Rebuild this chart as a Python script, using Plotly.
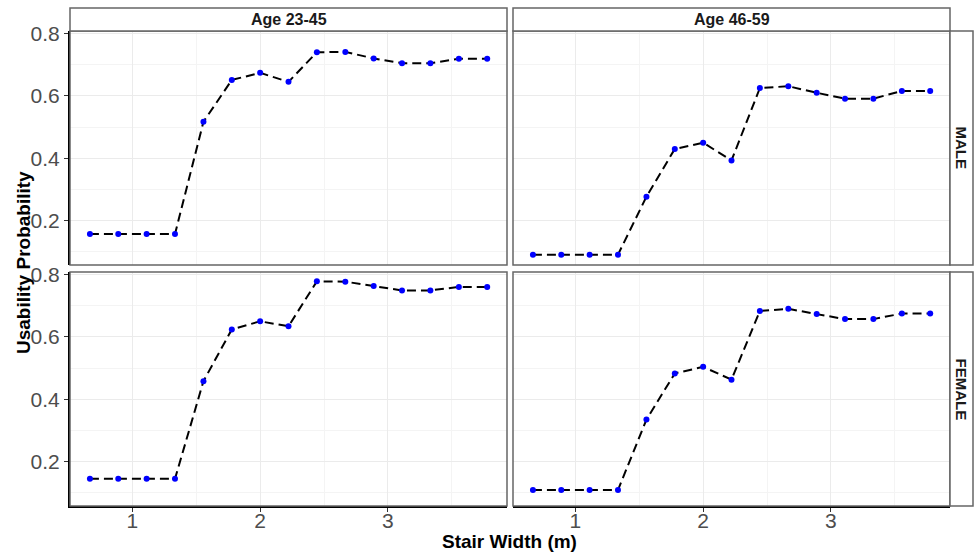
import plotly.graph_objects as go

# ---- data ----
stair_width = [0.667, 0.889, 1.111, 1.333, 1.556, 1.778, 2.0, 2.222,
               2.444, 2.667, 2.889, 3.111, 3.333, 3.556, 3.778]
male_23_45 = [0.157, 0.157, 0.157, 0.157, 0.517, 0.651, 0.674, 0.645,
              0.740, 0.741, 0.720, 0.705, 0.705, 0.719, 0.719]
male_46_59 = [0.091, 0.091, 0.091, 0.091, 0.277, 0.430, 0.450, 0.393,
              0.625, 0.631, 0.610, 0.591, 0.591, 0.616, 0.616]
female_23_45 = [0.145, 0.145, 0.145, 0.145, 0.458, 0.624, 0.650, 0.634,
                0.778, 0.777, 0.763, 0.749, 0.749, 0.760, 0.760]
female_46_59 = [0.109, 0.109, 0.109, 0.109, 0.335, 0.483, 0.504, 0.463,
                0.683, 0.690, 0.673, 0.657, 0.657, 0.675, 0.675]
age_labels = ["Age 23-45", "Age 46-59"]
sex_labels = ["MALE", "FEMALE"]
x_ticks = [1, 2, 3]
y_ticks = [0.2, 0.4, 0.6, 0.8]

W, H = 975, 554
FONT = "Liberation Sans, Arial, sans-serif"

# panel pixel boxes (left, right, top, bottom)
cols_px = [(70, 507), (513, 950)]
rows_px = [(31, 265), (272, 506)]

def fx(px):
    return px / W

def fy(py):
    return 1 - py / H

fig = go.Figure()
series = [[male_23_45, male_46_59], [female_23_45, female_46_59]]
shapes = []
annotations = []
xr = [0.511, 3.933]
yr = [0.058, 0.808]

idx = 0
for r in range(2):
    for c in range(2):
        idx += 1
        xa = "x" if idx == 1 else f"x{idx}"
        ya = "y" if idx == 1 else f"y{idx}"
        xkey = "xaxis" if idx == 1 else f"xaxis{idx}"
        ykey = "yaxis" if idx == 1 else f"yaxis{idx}"
        fig.add_trace(go.Scatter(
            x=stair_width, y=series[r][c], xaxis=xa, yaxis=ya,
            mode="lines+markers",
            line=dict(color="black", width=2, dash="9px,5px"),
            marker=dict(color="blue", size=6),
            showlegend=False, hoverinfo="x+y"))
        l, rr = cols_px[c]
        t, b = rows_px[r]
        bottom_row = (r == 1)
        left_col = (c == 0)
        fig.update_layout({
            xkey: dict(domain=[fx(l), fx(rr)], anchor=ya, range=xr,
                       tickvals=x_ticks, showticklabels=bottom_row,
                       ticks="outside" if bottom_row else "", ticklen=4,
                       tickcolor="#333333", automargin=False,
                       ticklabelstandoff=-9,
                       tickfont=dict(size=21, color="#4d4d4d", family=FONT),
                       showgrid=True, gridcolor="#ebebeb", gridwidth=1,
                       minor=dict(tickvals=[0.5, 1.5, 2.5, 3.5], showgrid=True,
                                  gridcolor="#f4f4f4", gridwidth=0.8),
                       zeroline=False,
                       showline=bottom_row, linecolor="black", linewidth=2),
            ykey: dict(domain=[fy(b), fy(t)], anchor=xa, range=yr,
                       tickvals=y_ticks, showticklabels=left_col,
                       ticks="outside" if left_col else "", ticklen=4,
                       tickcolor="#333333", automargin=False,
                       tickfont=dict(size=21, color="#4d4d4d", family=FONT),
                       showgrid=True, gridcolor="#ebebeb", gridwidth=1,
                       minor=dict(tickvals=[0.1, 0.3, 0.5, 0.7], showgrid=True,
                                  gridcolor="#f4f4f4", gridwidth=0.8),
                       zeroline=False,
                       showline=left_col, linecolor="black", linewidth=2),
        })
        # panel border
        shapes.append(dict(type="rect", xref="paper", yref="paper",
                           x0=fx(l), x1=fx(rr), y0=fy(b), y1=fy(t),
                           line=dict(color="#666666", width=1.5),
                           fillcolor="rgba(0,0,0,0)", layer="above"))

# top strips
for c in range(2):
    l, rr = cols_px[c]
    shapes.append(dict(type="rect", xref="paper", yref="paper",
                       x0=fx(l), x1=fx(rr), y0=fy(31), y1=fy(8),
                       line=dict(color="#666666", width=1.5), fillcolor="white"))
    annotations.append(dict(text=f"<b>{age_labels[c]}</b>", xref="paper", yref="paper",
                            x=(fx(l) + fx(rr)) / 2, y=(fy(31) + fy(8)) / 2,
                            showarrow=False, xanchor="center", yanchor="middle",
                            font=dict(size=16, color="#1a1a1a", family=FONT)))
# right strips
for r in range(2):
    t, b = rows_px[r]
    shapes.append(dict(type="rect", xref="paper", yref="paper",
                       x0=fx(950), x1=fx(973), y0=fy(b), y1=fy(t),
                       line=dict(color="#666666", width=1.5), fillcolor="white"))
    annotations.append(dict(text=f"<b>{sex_labels[r]}</b>", xref="paper", yref="paper",
                            x=(fx(950) + fx(973)) / 2, y=(fy(b) + fy(t)) / 2,
                            showarrow=False, xanchor="center", yanchor="middle",
                            textangle=90,
                            font=dict(size=15, color="#1a1a1a", family=FONT)))

# axis titles
annotations.append(dict(text="<b>Stair Width (m)</b>", xref="paper", yref="paper",
                        x=fx(509), y=fy(541), showarrow=False,
                        xanchor="center", yanchor="middle",
                        font=dict(size=19, color="black", family=FONT)))
annotations.append(dict(text="<b>Usability Probability</b>", xref="paper", yref="paper",
                        x=fx(23), y=fy(263), showarrow=False, textangle=-90,
                        xanchor="center", yanchor="middle",
                        font=dict(size=19, color="black", family=FONT)))

fig.update_layout(width=W, height=H, margin=dict(l=0, r=0, t=0, b=0),
                  paper_bgcolor="white", plot_bgcolor="white",
                  shapes=shapes, annotations=annotations,
                  font=dict(family=FONT))
fig.write_html("out.html", config={"displayModeBar": False},
               post_script="document.body.style.margin='0';document.body.style.overflow='hidden';")
